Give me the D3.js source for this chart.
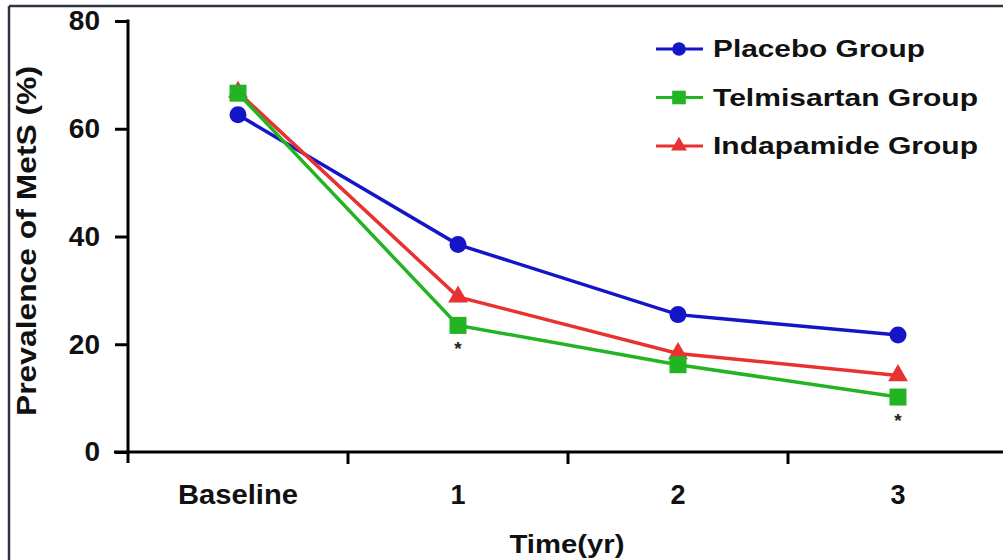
<!DOCTYPE html>
<meta charset="utf-8">
<html>
<head>
  <style>
    body { margin: 0; background: #fff; }
    svg { display: block; font-family: Arial, "Liberation Sans", sans-serif; }
  </style>
</head>
<body>
<svg id="chart" width="1003" height="560"></svg>
<script src="https://d3js.org/d3.v7.min.js"></script>
<script>
// data
const timepoints = ["Baseline", "1", "2", "3"];
const placebo = [62.6, 38.5, 25.5, 21.7];
const telmisartan = [66.6, 23.5, 16.2, 10.2];
const indapamide = [66.8, 28.8, 18.3, 14.2];
const yTicks = [0, 20, 40, 60, 80];
const starred = [{ t: "1", v: 23.5 }, { t: "3", v: 10.2 }];

const series = [
  { name: "Placebo Group", values: placebo, color: "#1515c8", shape: "circle", w: 212 },
  { name: "Telmisartan Group", values: telmisartan, color: "#22b422", shape: "square", w: 265 },
  { name: "Indapamide Group", values: indapamide, color: "#e83232", shape: "triangle", w: 265 }
];

const svg = d3.select("#chart");

// frame lines (top + left only)
svg.append("line").attr("x1", 9).attr("x2", 1003).attr("y1", 6).attr("y2", 6)
  .attr("stroke", "#2c3542").attr("stroke-width", 2.5);
svg.append("line").attr("x1", 9).attr("x2", 9).attr("y1", 6).attr("y2", 560)
  .attr("stroke", "#2c3542").attr("stroke-width", 2.5);

const x = d3.scaleBand().domain(timepoints).range([128, 1008]);
const y = d3.scaleLinear().domain([0, 80]).range([452, 21]);

// y axis
const yAxis = svg.append("g").attr("transform", "translate(128,0)")
  .call(d3.axisLeft(y).tickValues(yTicks).tickSizeInner(13).tickSizeOuter(0).tickPadding(15));
yAxis.select(".domain").attr("stroke-width", 3).attr("d", "M0,19.5V463");
yAxis.selectAll(".tick line").attr("stroke-width", 3);
yAxis.selectAll(".tick text").attr("font-size", 28).attr("font-weight", "bold").attr("fill", "#111");

// x axis: ticks sit on band edges, labels in band centres
const xAxis = svg.append("g").attr("transform", "translate(0,452)");
xAxis.append("line").attr("x1", 114).attr("x2", 1003).attr("y1", 0).attr("y2", 0)
  .attr("stroke", "#000").attr("stroke-width", 3);
xAxis.selectAll(".xtick").data(timepoints.slice(1)).join("line")
  .attr("x1", d => x(d)).attr("x2", d => x(d))
  .attr("y1", 0).attr("y2", 12)
  .attr("stroke", "#000").attr("stroke-width", 3);
xAxis.selectAll(".xlab").data(timepoints).join("text")
  .attr("x", d => x(d) + x.bandwidth() / 2)
  .attr("y", 52)
  .attr("text-anchor", "middle")
  .attr("font-size", 27).attr("font-weight", "bold").attr("fill", "#111")
  .attr("textLength", d => d === "Baseline" ? 120 : null)
  .attr("lengthAdjust", "spacingAndGlyphs")
  .text(d => d);

// axis titles
svg.append("text")
  .attr("transform", "translate(36,241) rotate(-90)")
  .attr("text-anchor", "middle")
  .attr("font-size", 28).attr("font-weight", "bold").attr("fill", "#111")
  .attr("textLength", 350).attr("lengthAdjust", "spacingAndGlyphs")
  .text("Prevalence of MetS (%)");
svg.append("text")
  .attr("x", 567).attr("y", 553)
  .attr("text-anchor", "middle")
  .attr("font-size", 26).attr("font-weight", "bold").attr("fill", "#111")
  .attr("textLength", 115).attr("lengthAdjust", "spacingAndGlyphs")
  .text("Time(yr)");

const cx = t => x(t) + x.bandwidth() / 2;
const line = d3.line().x((d, i) => cx(timepoints[i])).y(d => y(d));

function marker(g, shape, color, s) {
  if (shape === "circle") {
    g.append("circle").attr("r", 8.5 * s).attr("fill", color);
  } else if (shape === "square") {
    g.append("rect").attr("x", -8.5 * s).attr("y", -8.5 * s)
      .attr("width", 17 * s).attr("height", 17 * s).attr("fill", color);
  } else {
    g.append("path").attr("d", d3.symbol(d3.symbolTriangle, 170 * s * s)()).attr("fill", color);
  }
}

// draw order: placebo, indapamide, telmisartan
[series[0], series[2], series[1]].forEach(s => {
  svg.append("path").datum(s.values)
    .attr("d", line)
    .attr("fill", "none")
    .attr("stroke", s.color)
    .attr("stroke-width", 3.5);
  s.values.forEach((v, i) => {
    const g = svg.append("g").attr("transform", `translate(${cx(timepoints[i])},${y(v)})`);
    marker(g, s.shape, s.color, 1);
  });
});

// significance asterisks
svg.selectAll(".star").data(starred).join("text")
  .attr("x", d => cx(d.t))
  .attr("y", d => y(d.v) + 30)
  .attr("text-anchor", "middle")
  .attr("font-size", 19).attr("font-weight", "bold").attr("fill", "#222")
  .text("*");

// legend
const legend = svg.append("g").attr("transform", "translate(656,49)");
series.forEach((s, i) => {
  const row = legend.append("g").attr("transform", `translate(0,${i * 48.5})`);
  row.append("line").attr("x1", 0).attr("x2", 47).attr("y1", 0).attr("y2", 0)
    .attr("stroke", s.color).attr("stroke-width", 3);
  const m = row.append("g").attr("transform", "translate(23,0)");
  marker(m, s.shape, s.color, 0.8);
  row.append("text").attr("x", 57).attr("y", 8)
    .attr("font-size", 24).attr("font-weight", "bold").attr("fill", "#111")
    .attr("textLength", s.w).attr("lengthAdjust", "spacingAndGlyphs")
    .text(s.name);
});
</script>
</body>
</html>
